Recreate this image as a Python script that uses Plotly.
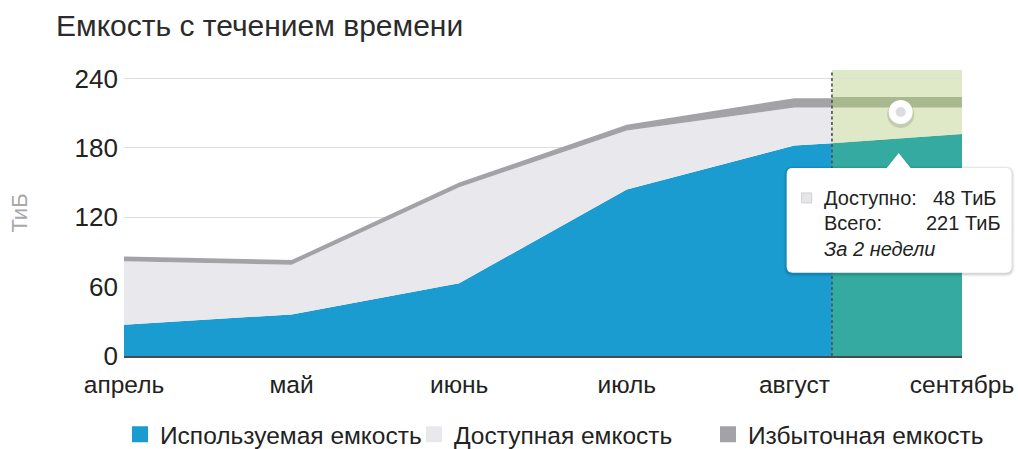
import plotly.graph_objects as go

# ---------------- data ----------------
months = ["апрель", "май", "июнь", "июль", "август", "сентябрь"]
month_pos = [0, 1, 2, 3, 4, 5]

hist_x = [0, 1, 2, 3, 4, 4.224]
used = [27, 36, 63, 144, 182, 184]
available = [55, 43, 83, 51, 33, 31]
excess = [4, 4, 4, 5, 8, 8]

fc_x = [4.224, 5]
used_fc = [184, 192]
available_fc = [31, 23]
excess_fc = [9, 9]

forecast_start = 4.224
point_x = [4.634]
point_y = [211]

y_ticks = [0, 60, 120, 180, 240]
y_max = 247.4

series_names = ["Используемая емкость", "Доступная емкость", "Избыточная емкость"]
tooltip_lines = [("Доступно:", "48 ТиБ"), ("Всего:", "221 ТиБ")]
tooltip_note = "За 2 недели"

# ---------------- style ----------------
OFF = 0                       # page body margin (removed via post_script)
W, H = 1018, 449
L, R, T, B = 124, 56, 70, 92.5
FONT = "Liberation Sans, Arial, Helvetica, sans-serif"
BLUE = "#1a9cd0"
LGREY = "#e9e9ed"
DGREY = "#a2a2a7"
TEAL = "#35aaa0"
LGREEN = "#dfe9c8"
DGREEN = "#a8b88f"

pw, ph = W - L - R, H - T - B


def px(xs):
    """screen x (page pixels) -> paper x"""
    return (xs - OFF - L) / pw


def py(ys):
    """screen y (page pixels) -> paper y"""
    return (H - B - (ys - OFF)) / ph


def data_to_screen(xv, yv):
    return OFF + L + xv / 5 * pw, OFF + (H - B) - yv / y_max * ph


fig = go.Figure()

for ys, col, nm in zip([used, available, excess], [BLUE, LGREY, DGREY], series_names):
    fig.add_trace(go.Scatter(x=hist_x, y=ys, stackgroup="hist", mode="lines",
                             line=dict(width=0), fillcolor=col, name=nm,
                             showlegend=False, hoverinfo="skip"))
for ys, col in zip([used_fc, available_fc, excess_fc], [TEAL, LGREEN, DGREEN]):
    fig.add_trace(go.Scatter(x=fc_x, y=ys, stackgroup="fc", mode="lines",
                             line=dict(width=0), fillcolor=col,
                             showlegend=False, hoverinfo="skip"))

# highlighted point
sx, sy = data_to_screen(point_x[0], point_y[0])
fig.add_trace(go.Scatter(x=point_x, y=[point_y[0] - 2.0], mode="markers",
                         marker=dict(size=27, color="rgba(0,0,0,0.12)"),
                         showlegend=False, hoverinfo="skip"))
fig.add_trace(go.Scatter(x=point_x, y=point_y, mode="markers",
                         marker=dict(size=24, color="white"),
                         showlegend=False, hoverinfo="skip"))
fig.add_trace(go.Scatter(x=point_x, y=point_y, mode="markers",
                         marker=dict(size=10, color="#dcdcdf"),
                         showlegend=False, hoverinfo="skip"))

# legend entries
for col, nm in zip([BLUE, LGREY, DGREY], series_names):
    fig.add_trace(go.Scatter(x=[None], y=[None], mode="markers", name=nm,
                             marker=dict(symbol="square", size=16, color=col)))

shapes = []
shapes.append(dict(type="rect", xref="x", yref="paper", x0=forecast_start, x1=5,
                   y0=0, y1=1, fillcolor=LGREEN, line=dict(width=0), layer="below"))
shapes.append(dict(type="line", xref="x", yref="paper", x0=forecast_start, x1=forecast_start,
                   y0=0, y1=1, line=dict(color="#4a4f5a", width=1.6, dash="3px,2.5px"),
                   layer="above"))

# tooltip (screen coordinates relative to the highlighted point)
tx0, tx1 = sx - 114, sx + 111
ty0, ty1 = sy + 56, sy + 161
tip_y = sy + 41
r = 6


def box_path(x0, y0, x1, y1, rad):
    ax = sx - 2
    p = f"M {px(x0 + rad)},{py(y0)} "
    p += f"L {px(ax - 12)},{py(y0)} L {px(ax)},{py(tip_y)} L {px(ax + 12)},{py(y0)} "
    p += f"L {px(x1 - rad)},{py(y0)} Q {px(x1)},{py(y0)} {px(x1)},{py(y0 + rad)} "
    p += f"L {px(x1)},{py(y1 - rad)} Q {px(x1)},{py(y1)} {px(x1 - rad)},{py(y1)} "
    p += f"L {px(x0 + rad)},{py(y1)} Q {px(x0)},{py(y1)} {px(x0)},{py(y1 - rad)} "
    p += f"L {px(x0)},{py(y0 + rad)} Q {px(x0)},{py(y0)} {px(x0 + rad)},{py(y0)} Z"
    return p


for k, a in [(3, 0.04), (2, 0.05), (1, 0.07)]:
    shapes.append(dict(type="path", xref="paper", yref="paper",
                       path=box_path(tx0 - k, ty0 - k + 1, tx1 + k, ty1 + k + 1, r + k),
                       fillcolor=f"rgba(0,0,0,{a})", line=dict(width=0), layer="above"))
shapes.append(dict(type="path", xref="paper", yref="paper",
                   path=box_path(tx0, ty0, tx1, ty1, r),
                   fillcolor="white", line=dict(width=0), layer="above"))
ix, iy = tx0 + 15, ty0 + 30
shapes.append(dict(type="rect", xref="paper", yref="paper",
                   x0=px(ix), x1=px(ix + 10), y0=py(iy - 5), y1=py(iy + 5),
                   fillcolor="#e6e6e8", line=dict(color="#cfcfd2", width=1), layer="above"))

annotations = []
text_x = tx0 + 35
TT = 20
for i, (lab, val) in enumerate(tooltip_lines):
    yy = ty0 + 30 + i * 25
    annotations.append(dict(xref="paper", yref="paper", x=px(text_x), y=py(yy),
                            xanchor="left", yanchor="middle", showarrow=False,
                            text=lab, font=dict(size=TT, color="#222", family=FONT)))
    annotations.append(dict(xref="paper", yref="paper", x=px(tx1 - 9 - (5 if i == 0 else 0)),
                            y=py(yy), xanchor="right", yanchor="middle", showarrow=False,
                            text=val, font=dict(size=TT, color="#222", family=FONT)))
annotations.append(dict(xref="paper", yref="paper", x=px(text_x), y=py(ty0 + 81),
                        xanchor="left", yanchor="middle", showarrow=False,
                        text=f"<i>{tooltip_note}</i>",
                        font=dict(size=TT, color="#222", family=FONT)))

fig.update_layout(
    width=W, height=H,
    margin=dict(l=L, r=R, t=T, b=B, autoexpand=False),
    paper_bgcolor="white", plot_bgcolor="white",
    title=dict(text="Емкость с течением времени", x=56 / W, xanchor="left",
               y=1 - 25 / H, yanchor="middle",
               font=dict(size=30, color="#2b2b2b", family=FONT)),
    font=dict(family=FONT, color="#222"),
    xaxis=dict(range=[0, 5], tickmode="array", tickvals=month_pos, ticktext=months,
               showgrid=False, zeroline=False, showline=True, linecolor="#4a4a4a",
               linewidth=2, ticks="", tickfont=dict(size=24.5, color="#222"),
               ticklabelstandoff=6, fixedrange=True),
    yaxis=dict(range=[0, y_max], tickmode="array", tickvals=y_ticks,
               showgrid=True, gridcolor="#dedede", gridwidth=1, zeroline=False,
               showline=False, ticks="", tickfont=dict(size=26, color="#222"),
               ticklabelstandoff=5,
               title=dict(text="ТиБ", font=dict(size=22, color="#a8a8a8"), standoff=40),
               fixedrange=True),
    legend=dict(orientation="h", x=px(120), xanchor="left", y=py(435), yanchor="middle",
                traceorder="normal",
                font=dict(size=24.5, color="#222"), entrywidth=249, entrywidthmode="pixels",
                itemclick=False, bgcolor="rgba(0,0,0,0)"),
    shapes=shapes,
    annotations=annotations,
    hovermode=False,
)

fig.write_html(
    "out.html",
    config={"displayModeBar": False},
    post_script="document.body.style.margin='0';document.body.style.overflow='hidden';",
)
